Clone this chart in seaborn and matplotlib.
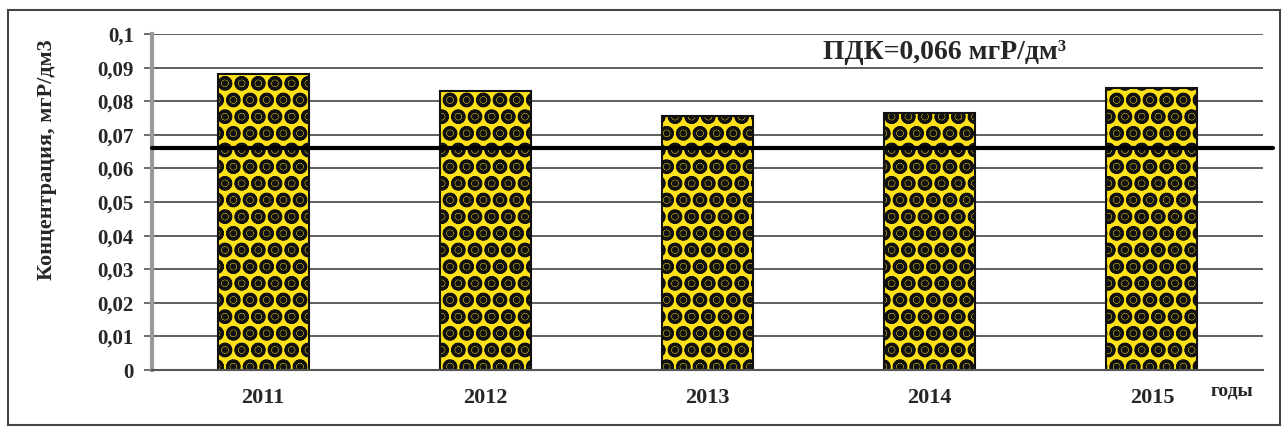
import matplotlib
matplotlib.use("Agg")
import matplotlib.pyplot as plt
import seaborn as sns
import pandas as pd
from matplotlib.patches import Rectangle

# Phosphorus concentration by year
years = ["2011", "2012", "2013", "2014", "2015"]
concentration = [0.088, 0.083, 0.0755, 0.0765, 0.084]
pdk_value = 0.066
pdk_label = "ПДК=0,066 мгР/дм³"
y_ticks = [0, 0.01, 0.02, 0.03, 0.04, 0.05, 0.06, 0.07, 0.08, 0.09, 0.1]
y_tick_labels = ["0", "0,01", "0,02", "0,03", "0,04", "0,05", "0,06", "0,07", "0,08", "0,09", "0,1"]

sns.set_theme(style="white")
plt.rcParams["font.family"] = ["Liberation Serif", "DejaVu Serif"]
plt.rcParams["font.weight"] = "bold"
plt.rcParams["hatch.color"] = "#151515"
plt.rcParams["hatch.linewidth"] = 2.2

df = pd.DataFrame({"year": years, "value": concentration})

W, H = 1286, 430
fig = plt.figure(figsize=(W / 100, H / 100), dpi=100)
ax = fig.add_axes([152 / W, 1 - 370 / H, (1263 - 152) / W, (370 - 34) / H])

ax.set_axisbelow(True)
for t in y_ticks[1:]:
    ax.axhline(t, color="#444444", lw=1.2, zorder=0)

# Yellow bars with a dotted ball pattern
sns.barplot(data=df, x="year", y="value", ax=ax, width=0.41,
            color="#ffe11a", saturation=1, edgecolor="#111111",
            linewidth=1.5, hatch="O.", zorder=2)

# Maximum permissible concentration line
ax.plot([0, 1.009], [pdk_value, pdk_value], transform=ax.get_yaxis_transform(),
        color="black", lw=3, clip_on=False, zorder=4)
ax.text(3.065, 0.0945, pdk_label, fontsize=20, fontweight="bold", ha="center", va="center")

ax.set_xlim(-0.5, 4.5)
ax.set_ylim(0, 0.1)
ax.set_yticks(y_ticks)
ax.set_yticklabels(y_tick_labels, fontsize=15, fontweight="bold")
ax.set_xticks(range(len(years)))
ax.set_xticklabels(years, fontsize=16, fontweight="bold")
ax.set_xticks([i - 0.5 for i in range(len(years) + 1)], minor=True)
ax.tick_params(axis="x", which="major", length=0, pad=13)
ax.tick_params(axis="x", which="minor", length=6, width=1.2, color="#555555", direction="out")
ax.tick_params(axis="y", length=6, width=1.2, color="#555555", pad=7, left=True)
ax.set_xlabel("")
ax.set_ylabel("Концентрация, мгР/дм3", fontsize=16, fontweight="bold")
ax.yaxis.set_label_coords(-0.0855, 0.625)

for side in ["top", "right"]:
    ax.spines[side].set_visible(False)
ax.spines["left"].set_color("#9a9a9a")
ax.spines["left"].set_linewidth(3)
ax.spines["bottom"].set_color("#555555")
ax.spines["bottom"].set_linewidth(1.5)

ax.text(0.991, -0.063, "годы", transform=ax.transAxes, fontsize=14, fontweight="bold",
        ha="right", va="center")

fig.patches.append(Rectangle((8 / W, 1 - 425 / H), (1280 - 8) / W, (425 - 10) / H,
                             transform=fig.transFigure, fill=False, edgecolor="#444444", lw=1.5))

fig.savefig("out.png", dpi=100)
